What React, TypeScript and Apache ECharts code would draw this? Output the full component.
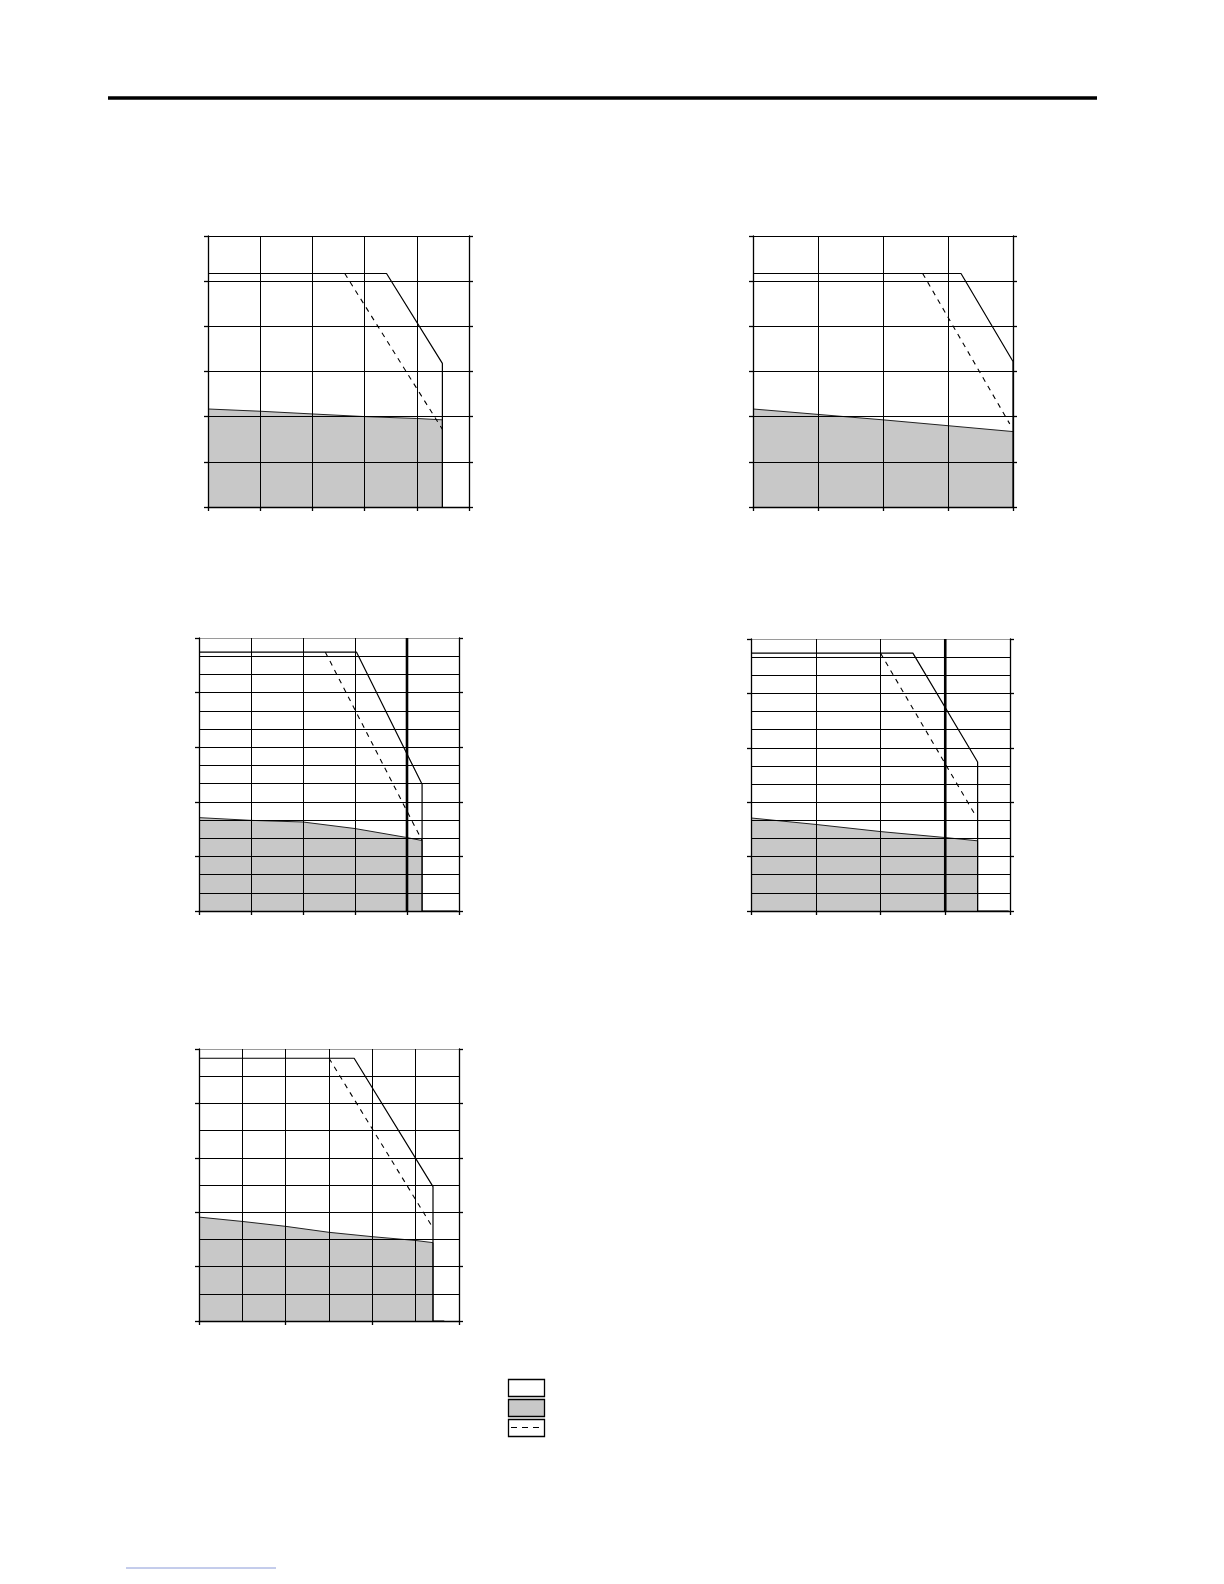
import { useEffect, useRef } from 'react';
import * as echarts from 'echarts';

// panel 1 (top left): 5 x 6 grid
const p1Shade = [[0, 2.17], [1, 2.12], [2, 2.06], [3.03, 2.0], [4, 1.96], [4.49, 1.93], [4.49, 0]];
const p1Solid = [[0, 5.17], [3.42, 5.17], [4.49, 3.18], [4.49, 0]];
const p1Dashed = [[2.62, 5.17], [4.49, 1.72]];

// panel 2 (top right): 4 x 6 grid
const p2Shade = [[0, 2.17], [1, 2.05], [2, 1.93], [3, 1.8], [4, 1.67]];
const p2Solid = [[0, 5.17], [3.2, 5.17], [4, 3.22], [4, 0]];
const p2Dashed = [[2.61, 5.17], [3.95, 1.84]];

// panel 3 (middle left): 5 x 5, minor thirds on y
const p3Shade = [[0, 1.71], [1, 1.66], [2, 1.63], [3, 1.51], [3.97, 1.35], [4.29, 1.29], [4.29, 0]];
const p3Solid = [[0, 4.74], [3.03, 4.74], [4.29, 2.32], [4.29, 0], [4.97, 0]];
const p3Dashed = [[2.43, 4.74], [4.29, 1.29]];
const p3Limit = [[4, 0], [4, 5]];

// panel 4 (middle right): 4 x 5, minor thirds on y
const p4Shade = [[0, 1.71], [1.01, 1.59], [2, 1.46], [3, 1.35], [3.5, 1.29], [3.5, 0]];
const p4Solid = [[0, 4.74], [2.5, 4.74], [3.5, 2.74], [3.5, 0], [3.98, 0]];
const p4Dashed = [[2.0, 4.74], [3.46, 1.77]];
const p4Limit = [[3, 0], [3, 5]];

// panel 5 (bottom left): 3 x 5, minor halves on both axes
const p5Shade = [[0, 1.91], [0.5, 1.83], [1, 1.74], [1.5, 1.63], [2, 1.55], [2.5, 1.48], [2.7, 1.44], [2.7, 0]];
const p5Solid = [[0, 4.83], [1.79, 4.83], [2.7, 2.47], [2.7, 0], [2.83, 0]];
const p5Dashed = [[1.5, 4.83], [2.7, 1.71]];

type Panel = {
  left: number;
  top: number;
  width: number;
  height: number;
  xMax: number;
  xMinor: number;
  yMax: number;
  yMinor: number;
  grayTop: boolean;
  shade: number[][];
  solid: number[][];
  dashed: number[][];
  limit?: number[][];
};

const panels: Panel[] = [
  { left: 208, top: 236, width: 261, height: 271, xMax: 5, xMinor: 1, yMax: 6, yMinor: 1, grayTop: false, shade: p1Shade, solid: p1Solid, dashed: p1Dashed },
  { left: 753, top: 236, width: 260, height: 271, xMax: 4, xMinor: 1, yMax: 6, yMinor: 1, grayTop: false, shade: p2Shade, solid: p2Solid, dashed: p2Dashed },
  { left: 199, top: 638, width: 260, height: 273, xMax: 5, xMinor: 1, yMax: 5, yMinor: 3, grayTop: true, shade: p3Shade, solid: p3Solid, dashed: p3Dashed, limit: p3Limit },
  { left: 751, top: 639, width: 259, height: 272, xMax: 4, xMinor: 1, yMax: 5, yMinor: 3, grayTop: true, shade: p4Shade, solid: p4Solid, dashed: p4Dashed, limit: p4Limit },
  { left: 199, top: 1049, width: 260, height: 272, xMax: 3, xMinor: 2, yMax: 5, yMinor: 2, grayTop: true, shade: p5Shade, solid: p5Solid, dashed: p5Dashed },
];

const SHADE = '#c8c8c8';
const INK = '#000';

export default function App() {
  const ref = useRef<HTMLDivElement>(null);

  useEffect(() => {
    const dom = ref.current;
    if (!dom) return;
    const chart = echarts.init(dom, undefined, { renderer: 'svg' });

    const grid = panels.map((p) => ({ left: p.left, top: p.top, width: p.width, height: p.height }));

    const xAxis = panels.map((p, i) => ({
      type: 'value',
      gridIndex: i,
      min: 0,
      max: p.xMax,
      interval: 1,
      z: 3,
      axisLine: { show: true, onZero: false, lineStyle: { color: INK, width: 1.3 } },
      axisTick: { show: true, inside: false, length: 4, lineStyle: { color: INK, width: 1.3 } },
      axisLabel: { show: false },
      splitLine: { show: true, lineStyle: { color: INK, width: 1 } },
      minorTick: { show: false, splitNumber: p.xMinor },
      minorSplitLine: { show: p.xMinor > 1, lineStyle: { color: INK, width: 1 } },
    }));

    const yAxis: any[] = [];
    panels.forEach((p, i) => {
      const colors = Array.from({ length: p.yMax + 1 }, (_, k) => (p.grayTop && k === p.yMax ? '#9a9a9a' : INK));
      yAxis.push({
        type: 'value',
        gridIndex: i,
        position: 'left',
        min: 0,
        max: p.yMax,
        interval: 1,
        z: 3,
        axisLine: { show: true, onZero: false, lineStyle: { color: INK, width: 1.3 } },
        axisTick: { show: true, inside: false, length: 4, lineStyle: { color: INK, width: 1.3 } },
        axisLabel: { show: false },
        splitLine: { show: true, lineStyle: { color: colors, width: 1 } },
        minorTick: { show: false, splitNumber: p.yMinor },
        minorSplitLine: { show: p.yMinor > 1, lineStyle: { color: INK, width: 1 } },
      });
      yAxis.push({
        type: 'value',
        gridIndex: i,
        position: 'right',
        min: 0,
        max: p.yMax,
        interval: 1,
        z: 3,
        axisLine: { show: true, onZero: false, lineStyle: { color: INK, width: 1.3 } },
        axisTick: { show: true, inside: false, length: 4, lineStyle: { color: INK, width: 1.3 } },
        axisLabel: { show: false },
        splitLine: { show: false },
      });
    });

    const series: any[] = [];
    panels.forEach((p, i) => {
      const base = { type: 'line', xAxisIndex: i, yAxisIndex: i * 2, showSymbol: false, symbol: 'none', silent: true };
      series.push({
        ...base,
        data: p.shade,
        z: 1,
        lineStyle: { color: '#222', width: 1 },
        areaStyle: { color: SHADE, opacity: 1 },
      });
      if (p.limit) {
        series.push({ ...base, data: p.limit, z: 4, lineStyle: { color: INK, width: 2.6 } });
      }
      series.push({ ...base, data: p.dashed, z: 5, lineStyle: { color: INK, width: 1.1, type: [5, 5] } });
      series.push({ ...base, data: p.solid, z: 5, lineStyle: { color: INK, width: 1.2 } });
    });

    chart.setOption({
      animation: false,
      backgroundColor: '#fff',
      grid,
      xAxis,
      yAxis,
      series,
      graphic: [
        { type: 'line', shape: { x1: 108, y1: 98, x2: 1097, y2: 98 }, style: { stroke: INK, lineWidth: 3.5 } },
        { type: 'rect', shape: { x: 508.5, y: 1379.5, width: 36, height: 17 }, style: { fill: '#fff', stroke: INK, lineWidth: 1.3 } },
        { type: 'rect', shape: { x: 508.5, y: 1399.5, width: 36, height: 17 }, style: { fill: SHADE, stroke: INK, lineWidth: 1.3 } },
        { type: 'rect', shape: { x: 508.5, y: 1419.5, width: 36, height: 17 }, style: { fill: '#fff', stroke: INK, lineWidth: 1.3 } },
        { type: 'line', shape: { x1: 511, y1: 1427.5, x2: 542, y2: 1427.5 }, style: { stroke: INK, lineWidth: 1.2, lineDash: [6, 5] } },
        { type: 'line', shape: { x1: 126, y1: 1568, x2: 276, y2: 1568 }, style: { stroke: '#8a9ad8', lineWidth: 1 } },
      ],
    } as echarts.EChartsOption);

    return () => {
      chart.dispose();
    };
  }, []);

  return <div ref={ref} style={{ position: 'absolute', left: 0, top: 0, width: 1224, height: 1584, background: '#fff' }} />;
}
